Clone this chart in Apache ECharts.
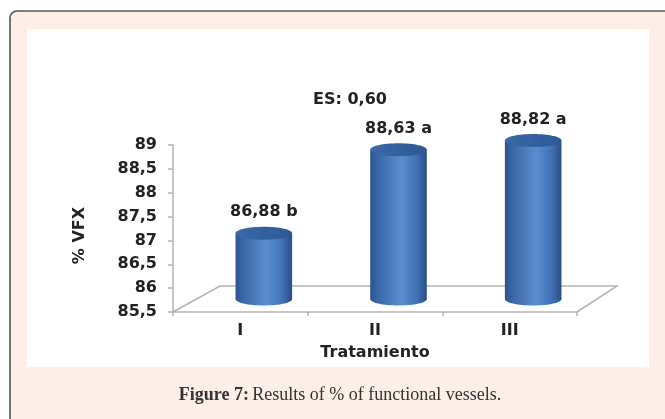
<!DOCTYPE html>
<html>
<head>
<meta charset="utf-8">
<style>
  html, body { margin: 0; padding: 0; background: #ffffff; }
  #chart { width: 665px; height: 419px; }
</style>
<script src="https://cdn.jsdelivr.net/npm/echarts@6/dist/echarts.min.js"></script>
</head>
<body>
<div id="chart"></div>
<script>
// Treatments and mean % of functional vessels, with significance letters
var categories = ['I', 'II', 'III'];
var values = [86.88, 88.63, 88.82];
var letters = ['b', 'a', 'a'];
var yTicks = [85.5, 86, 86.5, 87, 87.5, 88, 88.5, 89];
var errorNote = 'ES: 0,60';

var FONT = '"DejaVu Sans", Verdana, sans-serif';
var SERIF = '"Liberation Serif", "DejaVu Serif", serif';
var TXT = '#222222';

// depth of the pseudo-3D floor (back edge offset)
var DEPTH_X = 47, DEPTH_Y = -26;

function fmt(v) { return v.toFixed(2).replace('.', ','); }

var bodyGrad = new echarts.graphic.LinearGradient(0, 0, 1, 0, [
  { offset: 0, color: '#2a548f' },
  { offset: 0.12, color: '#3865a5' },
  { offset: 0.55, color: '#5a8ed2' },
  { offset: 0.82, color: '#4272b5' },
  { offset: 1, color: '#284e86' }
]);
var topGrad = new echarts.graphic.LinearGradient(0, 0, 1, 0, [
  { offset: 0, color: '#3a69a8' },
  { offset: 1, color: '#2d5994' }
]);

function renderCylinder(params, api) {
  var idx = api.value(0);
  var val = api.value(1);
  var top = api.coord([idx, val]);
  var base = api.coord([idx, yTicks[0]]);
  var band = api.size([1, 0])[0];
  var w = band * 0.42;
  var rx = w / 2, ry = 6.5;
  var cx = top[0] + DEPTH_X / 2;
  var ty = top[1] + DEPTH_Y / 2;
  var by = base[1] + DEPTH_Y / 2;
  return {
    type: 'group',
    children: [
      { type: 'ellipse', shape: { cx: cx, cy: by, rx: rx, ry: ry }, style: { fill: bodyGrad } },
      { type: 'rect', shape: { x: cx - rx, y: ty, width: w, height: by - ty }, style: { fill: bodyGrad } },
      { type: 'ellipse', shape: { cx: cx, cy: ty, rx: rx, ry: ry }, style: { fill: topGrad } },
      {
        type: 'text',
        style: {
          x: cx, y: ty - 13,
          text: fmt(val) + ' ' + letters[idx],
          align: 'center', verticalAlign: 'bottom',
          font: 'bold 16px ' + FONT, fill: TXT
        }
      }
    ]
  };
}

function renderFloor(params, api) {
  var cs = params.coordSys;
  var x0 = cs.x, x1 = cs.x + cs.width, y0 = cs.y + cs.height;
  return {
    type: 'polyline',
    shape: { points: [
      [x0, y0], [x0 + DEPTH_X, y0 + DEPTH_Y], [x1 + DEPTH_X - 7, y0 + DEPTH_Y], [x1, y0]
    ] },
    style: { stroke: '#b3b3b3', lineWidth: 1.5, fill: null },
    z2: 0
  };
}

var chart = echarts.init(document.getElementById('chart'), null, { renderer: 'canvas' });

chart.setOption({
  animation: false,
  backgroundColor: 'transparent',
  graphic: [
    {
      type: 'rect', z: -10,
      shape: { x: 10, y: 11, width: 700, height: 460, r: [7, 0, 0, 0] },
      style: { fill: '#fdeee7', stroke: '#555555', lineWidth: 1.6 }
    },
    {
      type: 'rect', z: -9,
      shape: { x: 27, y: 29, width: 622, height: 338 },
      style: { fill: '#ffffff' }
    },
    {
      type: 'text', z: 10,
      style: {
        x: 350, y: 100, text: errorNote, align: 'center', verticalAlign: 'middle',
        font: 'bold 16px ' + FONT, fill: TXT
      }
    },
    {
      type: 'text', z: 10,
      style: {
        x: 340, y: 395,
        text: '{b|Figure 7:} {r|Results of % of functional vessels.}',
        align: 'center', verticalAlign: 'middle',
        rich: {
          b: { fontFamily: SERIF, fontWeight: 'bold', fontSize: 18, fill: '#333333' },
          r: { fontFamily: SERIF, fontSize: 18, fill: '#333333' }
        }
      }
    }
  ],
  grid: { left: 173, top: 145, width: 404, height: 167, containLabel: false },
  xAxis: {
    type: 'category',
    data: categories,
    name: 'Tratamiento',
    nameLocation: 'middle',
    nameGap: 33,
    nameTextStyle: { fontFamily: FONT, fontWeight: 'bold', fontSize: 16, color: TXT },
    axisLine: { lineStyle: { color: '#b3b3b3', width: 1.5 } },
    axisTick: { show: true, length: 4, lineStyle: { color: '#b3b3b3', width: 1.5 } },
    axisLabel: { margin: 11, fontFamily: FONT, fontWeight: 'bold', fontSize: 16, color: TXT },
    splitLine: { show: false }
  },
  yAxis: {
    type: 'value',
    min: 85.5, max: 89, interval: 0.5,
    name: '% VFX',
    nameLocation: 'middle',
    nameGap: 85,
    nameRotate: 90,
    nameTextStyle: {
      fontFamily: FONT, fontWeight: 'bold', fontSize: 16, color: TXT,
      padding: [0, 14, 0, 0]
    },
    axisLine: { show: true, lineStyle: { color: '#b3b3b3', width: 1.5 } },
    axisTick: { show: true, length: 5, lineStyle: { color: '#b3b3b3', width: 1.5 } },
    axisLabel: {
      margin: 16, fontFamily: FONT, fontWeight: 'bold', fontSize: 16, color: TXT,
      formatter: function (v) { return String(v).replace('.', ','); }
    },
    splitLine: { show: false }
  },
  series: [
    {
      type: 'custom',
      renderItem: renderFloor,
      data: [[0, yTicks[0]]],
      z: 1,
      silent: true
    },
    {
      type: 'custom',
      renderItem: renderCylinder,
      data: values.map(function (v, i) { return [i, v]; }),
      encode: { x: 0, y: 1 },
      z: 2
    }
  ]
});
</script>
</body>
</html>
